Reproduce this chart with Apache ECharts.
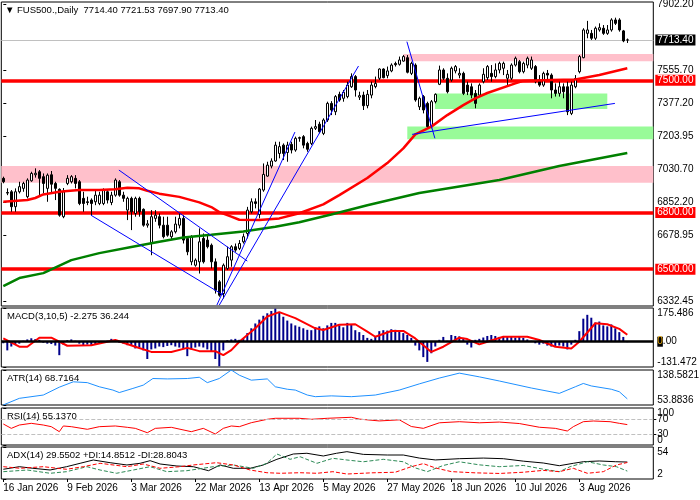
<!DOCTYPE html>
<html><head><meta charset="utf-8">
<script src="https://cdn.jsdelivr.net/npm/echarts@6/dist/echarts.min.js"></script>
<style>html,body{margin:0;padding:0;background:#fff}#c{width:700px;height:500px}</style>
</head><body><div id="c"></div>
<script>
// ---------- data ----------
const tickLabels = ['16 Jan 2026','9 Feb 2026','3 Mar 2026','22 Mar 2026','13 Apr 2026','5 May 2026','27 May 2026','18 Jun 2026','10 Jul 2026','3 Aug 2026'];
const tickStep = 16;
const slotCount = 163;

const open = [6981,6906,6910,6831,6910,6928,6884,6968,7000,7016,6990,6928,7000,6954,6923,6778,6954,6963,6981,6963,
6875,6857,6866,6857,6848,6848,6910,6853,6892,6963,6892,6813,6875,6795,6875,6817,6733,6636,6769,6778,
6733,6733,6672,6698,6733,6769,6663,6539,6521,6539,6663,6654,6627,6539,6433,6371,6504,6548,6619,6610,
6645,6689,6804,6857,6790,6919,6993,7046,7073,7113,7157,7118,7161,7131,7193,7202,7166,7166,7246,7268,
7219,7290,7378,7334,7426,7405,7414,7466,7520,7411,7422,7366,7422,7467,7511,7560,7525,7550,7589,7585,
7602,7620,7537,7581,7360,7414,7378,7260,7387,7479,7555,7511,7502,7550,7528,7537,7475,7466,7431,7422,
7493,7514,7537,7520,7555,7564,7511,7511,7581,7599,7546,7581,7564,7573,7502,7475,7537,7528,7449,7431,
7466,7466,7325,7466,7546,7620,7749,7749,7723,7767,7776,7749,7767,7820,7820,7762,7714.40];
const high = [6990,6928,6919,6928,6963,6963,6981,7016,7034,7025,7007,7007,7020,6963,6928,6930,6998,6998,6998,6972,
6910,6884,6875,6919,6910,6928,6919,6910,6981,6972,6910,6884,6884,6884,6884,6822,6760,6813,6813,6795,
6778,6778,6707,6778,6795,6786,6672,6680,6557,6716,6689,6680,6636,6557,6442,6530,6619,6627,6636,6654,
6689,6830,6875,6875,6930,7060,7069,7087,7175,7175,7166,7175,7175,7202,7202,7210,7175,7255,7290,7281,
7299,7387,7390,7422,7440,7449,7493,7537,7528,7440,7440,7449,7493,7520,7564,7564,7573,7590,7599,7626,
7634,7634,7599,7590,7414,7422,7387,7396,7431,7578,7564,7537,7573,7581,7564,7546,7493,7484,7449,7484,
7564,7581,7581,7590,7599,7599,7555,7590,7626,7608,7599,7626,7626,7581,7528,7546,7555,7537,7484,7493,
7484,7493,7493,7528,7634,7776,7815,7767,7785,7802,7793,7793,7829,7832,7829,7767,7721.53];
const low = [6955,6892,6804,6804,6901,6910,6875,6963,6985,6892,6901,6857,6900,6866,6778,6770,6945,6954,6928,6839,
6804,6839,6786,6839,6839,6839,6848,6839,6884,6884,6857,6760,6707,6778,6778,6725,6720,6574,6751,6716,
6663,6672,6654,6689,6716,6636,6574,6521,6513,6477,6530,6610,6504,6371,6354,6345,6495,6513,6592,6601,
6636,6663,6795,6822,6769,6910,6990,7034,7069,7087,7078,7069,7113,7122,7175,7140,7122,7157,7237,7219,
7210,7280,7316,7316,7387,7387,7405,7460,7414,7396,7343,7352,7405,7458,7502,7511,7511,7543,7573,7578,
7599,7537,7528,7387,7343,7325,7246,7246,7378,7475,7502,7431,7493,7537,7511,7422,7422,7405,7352,7414,
7484,7502,7493,7511,7537,7528,7466,7502,7573,7537,7537,7564,7555,7484,7466,7466,7502,7405,7414,7414,
7405,7316,7316,7458,7537,7617,7723,7714,7714,7758,7741,7741,7758,7793,7758,7702,7697.90];
const close = [6963,6903,6831,6910,6937,6954,6972,7007,7008,6981,6954,6998,6950,6928,6786,6910,6981,6990,6954,6848,
6848,6853,6848,6892,6892,6919,6866,6892,6972,6892,6875,6875,6804,6875,6804,6733,6740,6778,6786,6733,
6672,6680,6698,6739,6769,6654,6592,6672,6548,6645,6539,6619,6539,6389,6362,6521,6566,6619,6601,6636,
6672,6813,6857,6848,6924,7002,7051,7073,7157,7149,7113,7157,7131,7193,7197,7157,7135,7246,7255,7228,
7290,7378,7343,7414,7396,7437,7475,7520,7449,7419,7366,7426,7475,7484,7560,7514,7550,7581,7583,7608,
7626,7543,7590,7396,7405,7343,7255,7387,7426,7555,7511,7440,7564,7573,7537,7431,7440,7422,7378,7475,
7532,7573,7520,7555,7590,7590,7532,7581,7617,7546,7590,7617,7608,7493,7475,7537,7528,7449,7431,7466,
7440,7334,7475,7510,7626,7767,7767,7723,7776,7779,7749,7767,7820,7802,7767,7709,7713.40];

const priceTicks = [6332.45,6678.95,6852.20,7030.70,7203.95,7377.20,7555.70,7902.20];
const supportLevels = [7500, 6800, 6500];
const lastPrice = 7713.40;
const rsiLevels = [30, 70];

const redMA = [[0,6857],[6,6866],[8,6877],[10,6896],[14,6910],[16,6914],[19,6919],[24,6919],[28,6923],[31,6931],[34,6928],[36,6915],[39,6900],[44,6883],[49,6854],[52,6829],[54,6802],[57,6778],[59,6762],[64,6760],[69,6769],[74,6796],[80,6843],[84,6892],[91,6983],[96,7062],[100,7140],[103,7214],[107,7255],[111,7316],[115,7369],[118,7405],[121,7433],[128,7484],[130,7497],[137,7502],[143,7505],[149,7528],[156,7564]];
const greenMA = [[0,6410],[4,6453],[10,6479],[17,6548],[24,6585],[32,6617],[39,6645],[45,6668],[52,6682],[60,6700],[68,6725],[74,6749],[82,6790],[91,6839],[104,6903],[124,6972],[139,7046],[156,7115]];
const trendLines = [
  [[28.9,7025],[61,6543]],
  [[21.9,6786],[55,6363]],
  [[53.4,6310],[72.9,7226]],
  [[54,6310],[88.8,7576]],
  [[100.9,7705],[107.9,7193]],
  [[102.2,7214],[152.9,7378]]
];
const pinkZones = [[[100,7640],[162.5,7601]], [[-0.5,7046],[162.5,6958]]];
const greenZones = [[[107.9,7431],[151,7348]], [[101,7255],[162.5,7188]]];

const macdHist = [-8,-45,-25,-12,-10,5,12,18,14,10,-5,-10,-12,-20,-70,-15,8,12,5,-10,
-18,-15,-22,-12,-8,-5,5,15,8,-5,-10,-18,-22,-35,-30,-45,-90,-40,-35,-25,
-28,-22,-18,-25,-30,-38,-75,-40,-30,-25,-30,-40,-50,-90,-128,-45,8,12,15,10,
18,45,70,95,115,135,148,160,172,150,130,110,95,85,78,70,62,60,75,80,
70,85,98,98,85,75,98,92,60,50,35,20,15,30,55,60,58,65,62,55,
45,35,20,-20,-45,-80,-105,-60,-25,10,25,5,35,30,28,20,-15,-30,10,15,
22,30,35,30,25,30,28,25,22,25,20,12,5,-8,-15,-10,-20,-25,-22,-20,
-25,-40,-15,10,55,120,140,125,100,105,85,80,90,70,50,25,-2.275];
const macdSignal = [[0,17],[4,-26],[6,-26],[9,21],[12,21],[16,-21],[22,-18],[28,9],[33,-26],[37,-53],[42,-53],[46,-32],[49,-49],[53,-49],[55,-70],[57,-44],[59,0],[63,70],[66,131],[69,154],[73,123],[78,70],[80,61],[84,88],[88,91],[91,53],[93,26],[97,56],[100,56],[103,17],[107,-53],[110,-26],[114,21],[116,14],[119,-14],[121,0],[125,26],[131,26],[134,9],[138,-26],[142,-35],[144,0],[148,96],[151,91],[154,67],[156,36.244]];
const atr = [[0,54],[4,70],[10,78],[14,97],[17.5,110],[21,108],[24,98],[27.4,90],[29,84],[32.4,94],[35,102],[37.4,118],[41,117],[46,118],[49,121],[51,108],[54,118],[57,138.58],[59,126],[62,114],[66,117],[68,98],[71,92],[73,90],[76,78],[78,74],[82,76],[87,74],[93,78],[99,90],[104,105],[109,119],[114,131],[119,122],[124,112],[132,95],[139,82],[143,98],[145,106],[147,100],[152,92],[154,86],[156,68.72]];
const rsi = [[0,56.8],[2,45],[4,54],[7,58.6],[10,54],[12,49.5],[14,36],[15,51.4],[17,49.5],[21,42.4],[24,49.5],[28,51.4],[31,47.8],[33,45],[36,33.2],[38,45],[42,47.8],[47,36],[50,45],[53,29.7],[55,45],[57,51.4],[59,49.5],[62,60.3],[66,69.5],[68,72.2],[74,72.2],[77,69.5],[81,72.2],[87,74.9],[89,70],[94,65],[99,68],[102,50],[105,45],[109,60],[114,63],[119,60],[124,62],[129,58],[134,48],[138,45],[141,37.8],[142.5,49.5],[145,63],[147.5,64.9],[151.7,63],[154,58.6],[156,55.14]];
const adx = [[0,17.8],[4,22],[7.4,19.4],[11.7,16.6],[15.8,22],[19.2,27.5],[22.5,32.9],[26.7,28.5],[30.9,24.8],[34.2,27.5],[36.7,31.8],[39.2,26.4],[43.4,23.1],[47.5,22],[51.3,15.5],[54.2,24.8],[57.5,19.4],[61.7,19.4],[65,24.8],[68.4,34],[72.5,42.6],[75.9,43.8],[80,39.4],[83.3,43.8],[85.9,46.4],[90,42],[96,41],[100,41],[104,36],[108,33],[114,35],[120,36],[125,35],[130,31],[135,28],[139,23.6],[142.5,27.5],[145,30.1],[149,31.3],[153,30.1],[156,29.55]];
const plusDI = [[0,13.9],[6,16.6],[11.7,11.3],[15.8,13.9],[20.9,22],[24.2,16.6],[28.3,11.3],[32.5,16.6],[36.7,22],[40.9,13.9],[45.9,15.5],[52.5,22],[57.5,24.8],[62.5,19.4],[65.9,27.5],[68.4,42.6],[71.7,34],[74.2,38.2],[78.4,27.5],[82.4,35.6],[85.9,32.9],[90,30],[95,34],[100,30],[103,20],[106,14],[110,24],[114,30],[119,25],[124,22],[130,24],[135,18],[139,13.9],[141.7,22],[146,30.1],[150,24.8],[153.3,22],[156,14.85]];
const minusDI = [[0,22],[4.2,19.4],[10,22],[15.8,17.8],[20,22],[24.2,27.5],[30.9,22],[35,26.4],[39.2,19.4],[44.2,22],[47.5,24.8],[53.3,28.5],[57.5,24.8],[61.7,16.6],[65.9,12.2],[69.2,11.3],[74.2,12.2],[78.4,11.3],[82.4,13.9],[85.9,10.1],[92,12],[98,13],[102,22],[105,27],[108,20],[112,14],[118,12],[124,11],[130,13],[135,16],[139,13.9],[142.5,19.4],[146,11.3],[150,13.9],[153.3,24.8],[156,28.8]];

// ---------- chart ----------
const FONT = 'Liberation Sans';
const cats = Array.from({length: slotCount}, (_, i) => String(i));
const candles = open.map((o, i) => [o, close[i], low[i], high[i]]);
const gridBoxes = [[2,304],[308,59],[370,35],[408,37],[447,32]];
const L = 1.3, W = 652;

const grid = gridBoxes.map(([t,h]) => ({left:L, width:W, top:t, height:h, show:true, borderColor:'#000', borderWidth:1, backgroundColor:'transparent', outerBoundsMode:'none', containLabel:false}));

const labelInterval = (i) => i % tickStep === 0 && i / tickStep < tickLabels.length;
const xAxis = [];
gridBoxes.forEach((g, k) => {
  const isLast = k === gridBoxes.length - 1;
  xAxis.push({type:'category', gridIndex:k, data:cats, boundaryGap:true,
    axisLine:{show:false}, splitLine:{show:false},
    axisTick:{show:isLast, alignWithLabel:true, interval:labelInterval, length:3, lineStyle:{color:'#000'}},
    axisLabel:{show:isLast, interval:labelInterval, hideOverlap:false, formatter:(v)=>tickLabels[Number(v)/tickStep], align:'left', margin:4, fontFamily:FONT, fontSize:10, color:'#000'}});
  xAxis.push({type:'value', gridIndex:k, min:-0.5, max:slotCount-0.5, show:false});
});

const baseLabel = {fontFamily:FONT, fontSize:10, color:'#000', margin:4, hideOverlap:false, showMinLabel:true, showMaxLabel:true};
const tick = {show:true, length:3, lineStyle:{color:'#000'}};
const yAxis = [
  {type:'value', gridIndex:0, position:'right', min:6305, max:7915, scale:true, splitLine:{show:false}, axisLine:{show:false},
   axisTick:Object.assign({customValues:priceTicks}, tick),
   axisLabel:Object.assign({customValues:priceTicks, formatter:v=>v.toFixed(2)}, baseLabel)},
  {type:'value', gridIndex:1, position:'right', min:-131.472, max:175.486, splitLine:{show:false}, axisLine:{show:false},
   axisTick:Object.assign({customValues:[-131.472,0,175.486]}, tick),
   axisLabel:Object.assign({customValues:[-131.472,0,175.486], verticalAlignMinLabel:'bottom', verticalAlignMaxLabel:'top',
     formatter:v=> v===0 ? '{z|0}.00' : String(v), rich:{z:{backgroundColor:'#000', color:'#e0a000', fontFamily:FONT, fontSize:10}}}, baseLabel)},
  {type:'value', gridIndex:2, position:'right', min:53.8836, max:138.5821, splitLine:{show:false}, axisLine:{show:false},
   axisTick:Object.assign({customValues:[53.8836,138.5821]}, tick),
   axisLabel:Object.assign({customValues:[53.8836,138.5821], verticalAlignMinLabel:'bottom', verticalAlignMaxLabel:'top', formatter:v=>v.toFixed(4)}, baseLabel)},
  {type:'value', gridIndex:3, position:'right', min:0, max:100, splitLine:{show:false}, axisLine:{show:false},
   axisTick:Object.assign({customValues:[0,100]}, tick),
   axisLabel:Object.assign({customValues:[0,100], verticalAlignMinLabel:'bottom', verticalAlignMaxLabel:'top'}, baseLabel)},
  {type:'value', gridIndex:4, position:'right', min:2, max:54, splitLine:{show:false}, axisLine:{show:false},
   axisTick:Object.assign({customValues:[2,54]}, tick),
   axisLabel:Object.assign({customValues:[2,54], verticalAlignMinLabel:'bottom', verticalAlignMaxLabel:'top'}, baseLabel)},
  {type:'value', gridIndex:3, position:'right', min:0, max:100, splitLine:{show:false}, axisLine:{show:false},
   axisTick:Object.assign({customValues:rsiLevels}, tick),
   axisLabel:Object.assign({customValues:rsiLevels}, baseLabel, {showMinLabel:true, showMaxLabel:true})}
];

const levelLabel = (bg, txt) => ({show:true, position:'end', distance:2, formatter:txt, color:'#fff', backgroundColor:bg, padding:[1,2,0,2], fontFamily:FONT, fontSize:10});
const line = (xi, yi, data, color, width, type, z) => ({type:'line', xAxisIndex:xi, yAxisIndex:yi, data, symbol:'none', silent:true, z:z||4,
  lineStyle:{color, width, type:type||'solid'}});

const series = [
  // zones
  {type:'line', xAxisIndex:1, yAxisIndex:0, data:[], silent:true, z:1,
   markArea:{silent:true, z:1, data:[
     ...pinkZones.map(([a,b]) => [{coord:a, itemStyle:{color:'#FFC0CB'}}, {coord:b}]),
     ...greenZones.map(([a,b]) => [{coord:a, itemStyle:{color:'#98FB98'}}, {coord:b}])
   ]}},
  // horizontal levels
  {type:'line', xAxisIndex:1, yAxisIndex:0, data:[], silent:true, z:2,
   markLine:{silent:true, z:2, symbol:['none','none'], animation:false,
     data:[
       {yAxis:lastPrice, lineStyle:{color:'#C0C0C0', width:1, type:'solid'}, label:levelLabel('#000', lastPrice.toFixed(2))},
       ...supportLevels.map(v => ({yAxis:v, lineStyle:{color:'#FF0000', width:3.5, type:'solid'}, label:levelLabel('#FF0000', v.toFixed(2))}))
     ]}},
  {type:'candlestick', xAxisIndex:0, yAxisIndex:0, data:candles, barWidth:2, z:3, silent:true,
   itemStyle:{color:'#fff', color0:'#000', borderColor:'#000', borderColor0:'#000', borderWidth:1}},
  line(1, 0, greenMA, '#008000', 2.5),
  line(1, 0, redMA, '#FF0000', 2.5),
  ...trendLines.map(t => line(1, 0, t, '#0000FF', 1, 'solid', 5)),
  // MACD
  {type:'bar', xAxisIndex:2, yAxisIndex:1, data:macdHist, barWidth:2, silent:true, itemStyle:{color:'#00008B'},
   markLine:{silent:true, symbol:['none','none'], label:{show:false}, data:[{yAxis:0}], lineStyle:{color:'#000', width:2.5, type:'solid'}}},
  line(3, 1, macdSignal, '#FF0000', 2),
  // ATR
  line(5, 2, atr, '#1E90FF', 1),
  // RSI
  Object.assign(line(7, 3, rsi, '#FF0000', 1), {markLine:{silent:true, symbol:['none','none'], label:{show:false},
     data:rsiLevels.map(v => ({yAxis:v})), lineStyle:{color:'#C0C0C0', width:1, type:'dashed'}}}),
  // ADX
  line(9, 4, adx, '#000000', 1),
  line(9, 4, plusDI, '#2E8B57', 1, 'dashed'),
  line(9, 4, minusDI, '#FF0000', 1, 'dashed')
];

const tStyle = {fontFamily:FONT, fontSize:9.5, fontWeight:'normal', color:'#000'};
const title = [
  {text:'▼ FUS500.,Daily  7714.40 7721.53 7697.90 7713.40', left:5, top:5},
  {text:'MACD(3,10,5) -2.275 36.244', left:7, top:311},
  {text:'ATR(14) 68.7164', left:7, top:373},
  {text:'RSI(14) 55.1370', left:7, top:411},
  {text:'ADX(14) 29.5502 +DI:14.8512 -DI:28.8043', left:7, top:450}
].map(t => Object.assign(t, {padding:0, textStyle:tStyle}));

const chart = echarts.init(document.getElementById('c'), null, {renderer:'canvas'});
chart.setOption({animation:false, backgroundColor:'#fff', title, grid, xAxis, yAxis, series, tooltip:{show:false}});
</script></body></html>
